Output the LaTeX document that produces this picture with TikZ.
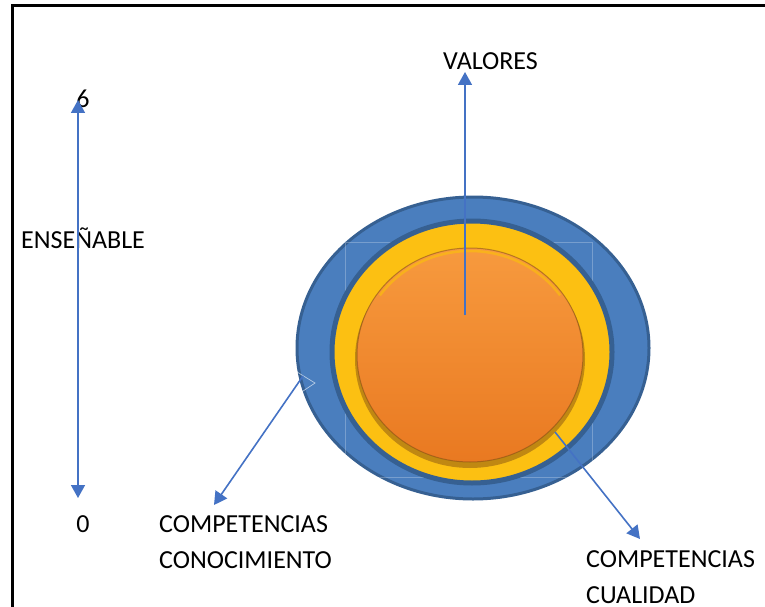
\documentclass[tikz,border=0pt]{standalone}
\usepackage{fontspec}
\setmainfont{Carlito}
\usetikzlibrary{arrows.meta}
\definecolor{flechaazul}{RGB}{68,114,196}
\definecolor{anilloazul}{RGB}{74,126,190}
\definecolor{anillooscuro}{RGB}{54,96,146}
\definecolor{amarillo}{RGB}{252,192,18}
\definecolor{naranjaarriba}{RGB}{247,154,62}
\definecolor{naranjaabajo}{RGB}{233,121,33}
\definecolor{sombra}{RGB}{120,70,20}
\tikzset{
  flecha/.style={draw=flechaazul, line width=1.6pt, -{Triangle[width=14pt,length=13pt]}},
  etiqueta/.style={font=\fontsize{26}{36}\selectfont, inner sep=0pt, align=left},
}
\begin{document}
\begin{tikzpicture}[x=1pt, y=-1pt]
        \useasboundingbox (0,0) rectangle (765,607);
        % marco
        \draw[line width=3pt] (12,607) -- (12,6) -- (765,6);
        % anillos
        \draw[fill=anilloazul, draw=anillooscuro, line width=3pt] (473,348) ellipse [x radius=176, y radius=151];
        \draw[white, opacity=0.25, line width=0.8pt] (345,242) rectangle (592,477);
        \draw[fill=amarillo, draw=anillooscuro, line width=5pt] (472,352) ellipse [x radius=140, y radius=131];
        % boton
        \fill[sombra, opacity=0.45] (470,359) ellipse [x radius=115, y radius=109];
        \shade[top color=naranjaarriba, bottom color=naranjaabajo] (470,355) ellipse [x radius=113, y radius=107];
        \draw[sombra, opacity=0.5, line width=1pt] (470,355) ellipse [x radius=113, y radius=107];
        \draw[yellow!55!orange, opacity=0.6, line width=2.5pt] (470,355) ++(215:110 and 104) arc[start angle=215, end angle=325, x radius=110, y radius=104];
        \draw[white, opacity=0.6, line width=0.7pt] (297,372) -- (315,383) -- (300,393);
        % textos
        \node[etiqueta, anchor=base] (seis) at (83,107) {6};
        \node[etiqueta, anchor=base] (cero) at (83,532) {0};
        \node[etiqueta, anchor=base west] (ensenable) at (21,248) {ENSEÑABLE};
        \node[etiqueta, anchor=base west] (valores) at (443,70) {VALORES};
        \node[etiqueta, anchor=base west] (conocimiento) at (159,568) {COMPETENCIAS\\CONOCIMIENTO};
        \node[etiqueta, anchor=base west] (cualidad) at (586,603) {COMPETENCIAS\\CUALIDAD};
        % flechas
        \coordinate (ejearriba) at (78,100);
        \coordinate (ejeabajo) at (78,498);
        \coordinate (centro) at (465,315);
        \coordinate (borde) at (303,376);
        \coordinate (interior) at (555,432);
        \draw[flecha, {Triangle[width=14pt,length=13pt]}-{Triangle[width=14pt,length=13pt]}] (ejeabajo) -- (ejearriba);
        \draw[flecha] (centro) -- (465,72);
        \draw[flecha] (borde) -- (214,505);
        \draw[flecha] (interior) -- (640,539);
\end{tikzpicture}
\end{document}
